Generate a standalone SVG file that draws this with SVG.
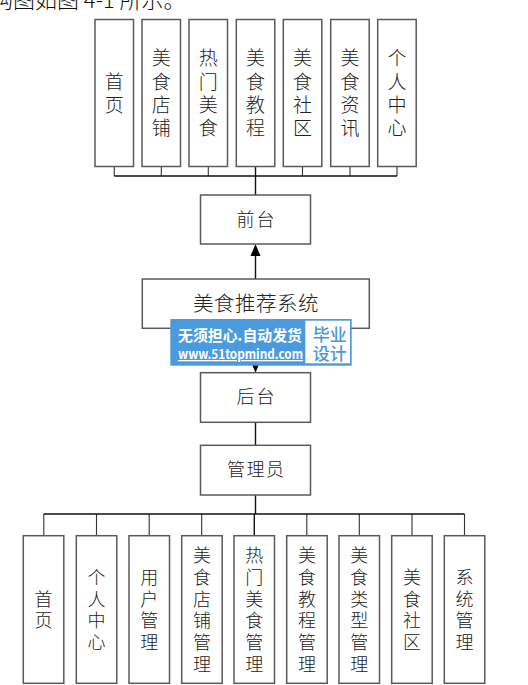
<svg xmlns="http://www.w3.org/2000/svg" width="528" height="685" viewBox="0 0 528 685">
<style>
.box{fill:#fff;stroke:#5a5a5a;stroke-width:1.5}
.t{font-family:"Noto Sans CJK SC","Noto Sans",sans-serif;fill:#222;font-weight:300;text-anchor:middle}
.t1{font-size:19px}
.t2{font-size:18px}
.con{stroke:#111;stroke-width:1.4;fill:none}
.stub{stroke:#333;stroke-width:1.1;fill:none}
.wm1{font-family:"Noto Sans CJK SC","Noto Sans",sans-serif;fill:#fff;font-weight:700}
.wm2{font-family:"Noto Sans CJK SC",sans-serif;fill:#4a98d8;font-weight:500}
</style>
<rect width="528" height="685" fill="#fff"/>
<text x="-9" y="8" font-family="'Noto Sans CJK SC',sans-serif" font-size="22" font-weight="300" fill="#111">构图如图 4-1 所示。</text>

<g id="connectors">
  <g class="stub">
    <path d="M114.3 166.5V176M161.3 166.5V176M208.3 166.5V176M302.5 166.5V176M350 166.5V176M397 166.5V176"/>
    <path d="M96.5 514V535.7M149.2 514V535.7M201.7 514V535.7M306.8 514V535.7M359.3 514V535.7M412 514V535.7"/>
    <path d="M43.8 514V535.7M464.5 514V535.7"/>
  </g>
  <path class="con" d="M114.3 176H397M255.5 166.5V195"/>
  <path class="con" d="M255.5 279V255"/>
  <polygon points="250.5,256 260.5,256 255.5,244" fill="#000"/>
  <path class="con" d="M255.5 328.3V362"/>
  <polygon points="251,362 260,362 255.5,372.7" fill="#000"/>
  <path class="con" d="M255.5 422.3V445.3"/>
  <path class="con" d="M255.5 495V514M43.8 514H464.5M254.3 514V535.7"/>
</g>

<g id="top-1"><rect class="box" x="95" y="19.5" width="38.5" height="147"/><text class="t t1"><tspan x="114.3" y="88.6">首</tspan><tspan x="114.3" y="111.9">页</tspan></text></g>
<g id="top-2"><rect class="box" x="142" y="19.5" width="38.5" height="147"/><text class="t t1"><tspan x="161.3" y="65.3">美</tspan><tspan x="161.3" y="88.6">食</tspan><tspan x="161.3" y="111.9">店</tspan><tspan x="161.3" y="135.2">铺</tspan></text></g>
<g id="top-3"><rect class="box" x="189" y="19.5" width="38.5" height="147"/><text class="t t1"><tspan x="208.3" y="65.3">热</tspan><tspan x="208.3" y="88.6">门</tspan><tspan x="208.3" y="111.9">美</tspan><tspan x="208.3" y="135.2">食</tspan></text></g>
<g id="top-4"><rect class="box" x="236.3" y="19.5" width="38.5" height="147"/><text class="t t1"><tspan x="255.5" y="65.3">美</tspan><tspan x="255.5" y="88.6">食</tspan><tspan x="255.5" y="111.9">教</tspan><tspan x="255.5" y="135.2">程</tspan></text></g>
<g id="top-5"><rect class="box" x="283.3" y="19.5" width="38.5" height="147"/><text class="t t1"><tspan x="302.5" y="65.3">美</tspan><tspan x="302.5" y="88.6">食</tspan><tspan x="302.5" y="111.9">社</tspan><tspan x="302.5" y="135.2">区</tspan></text></g>
<g id="top-6"><rect class="box" x="330.7" y="19.5" width="38.5" height="147"/><text class="t t1"><tspan x="350" y="65.3">美</tspan><tspan x="350" y="88.6">食</tspan><tspan x="350" y="111.9">资</tspan><tspan x="350" y="135.2">讯</tspan></text></g>
<g id="top-7"><rect class="box" x="377.7" y="19.5" width="38.5" height="147"/><text class="t t1"><tspan x="397" y="65.3">个</tspan><tspan x="397" y="88.6">人</tspan><tspan x="397" y="111.9">中</tspan><tspan x="397" y="135.2">心</tspan></text></g>

<g id="qiantai"><rect class="box" x="200.5" y="195" width="110" height="49"/><text class="t" font-size="18" letter-spacing="2" x="256.5" y="226">前台</text></g>
<g id="system"><rect class="box" x="142.3" y="279" width="227" height="49.3"/><text class="t" font-size="20.5" letter-spacing="0.5" x="256" y="311">美食推荐系统</text></g>
<g id="houtai"><rect class="box" x="200.5" y="372.7" width="110" height="49.6"/><text class="t" font-size="18" letter-spacing="2" x="256.5" y="403">后台</text></g>
<g id="admin"><rect class="box" x="200.5" y="445.3" width="110" height="49.7"/><text class="t" font-size="18" letter-spacing="1.5" x="256.2" y="476">管理员</text></g>

<g id="bot-1"><rect class="box" x="23.3" y="535.7" width="40.5" height="147.6"/><text class="t t2"><tspan x="43.6" y="605.5">首</tspan><tspan x="43.6" y="627.2">页</tspan></text></g>
<g id="bot-2"><rect class="box" x="76.3" y="535.7" width="40.5" height="147.6"/><text class="t t2"><tspan x="96.5" y="583.8">个</tspan><tspan x="96.5" y="605.5">人</tspan><tspan x="96.5" y="627.2">中</tspan><tspan x="96.5" y="648.9">心</tspan></text></g>
<g id="bot-3"><rect class="box" x="129" y="535.7" width="40.5" height="147.6"/><text class="t t2"><tspan x="149.2" y="583.8">用</tspan><tspan x="149.2" y="605.5">户</tspan><tspan x="149.2" y="627.2">管</tspan><tspan x="149.2" y="648.9">理</tspan></text></g>
<g id="bot-4"><rect class="box" x="181.7" y="535.7" width="40.5" height="147.6"/><text class="t t2"><tspan x="201.9" y="562.1">美</tspan><tspan x="201.9" y="583.8">食</tspan><tspan x="201.9" y="605.5">店</tspan><tspan x="201.9" y="627.2">铺</tspan><tspan x="201.9" y="648.9">管</tspan><tspan x="201.9" y="670.6">理</tspan></text></g>
<g id="bot-5"><rect class="box" x="234" y="535.7" width="40.5" height="147.6"/><text class="t t2"><tspan x="254.3" y="562.1">热</tspan><tspan x="254.3" y="583.8">门</tspan><tspan x="254.3" y="605.5">美</tspan><tspan x="254.3" y="627.2">食</tspan><tspan x="254.3" y="648.9">管</tspan><tspan x="254.3" y="670.6">理</tspan></text></g>
<g id="bot-6"><rect class="box" x="286.7" y="535.7" width="40.5" height="147.6"/><text class="t t2"><tspan x="306.9" y="562.1">美</tspan><tspan x="306.9" y="583.8">食</tspan><tspan x="306.9" y="605.5">教</tspan><tspan x="306.9" y="627.2">程</tspan><tspan x="306.9" y="648.9">管</tspan><tspan x="306.9" y="670.6">理</tspan></text></g>
<g id="bot-7"><rect class="box" x="339" y="535.7" width="40.5" height="147.6"/><text class="t t2"><tspan x="359.3" y="562.1">美</tspan><tspan x="359.3" y="583.8">食</tspan><tspan x="359.3" y="605.5">类</tspan><tspan x="359.3" y="627.2">型</tspan><tspan x="359.3" y="648.9">管</tspan><tspan x="359.3" y="670.6">理</tspan></text></g>
<g id="bot-8"><rect class="box" x="391.7" y="535.7" width="40.5" height="147.6"/><text class="t t2"><tspan x="412" y="583.8">美</tspan><tspan x="412" y="605.5">食</tspan><tspan x="412" y="627.2">社</tspan><tspan x="412" y="648.9">区</tspan></text></g>
<g id="bot-9"><rect class="box" x="444.3" y="535.7" width="40.5" height="147.6"/><text class="t t2"><tspan x="464.5" y="583.8">系</tspan><tspan x="464.5" y="605.5">统</tspan><tspan x="464.5" y="627.2">管</tspan><tspan x="464.5" y="648.9">理</tspan></text></g>

<g id="watermark">
  <rect x="170.3" y="319" width="181.4" height="46.7" fill="#4c9ade"/>
  <rect x="305.3" y="320.7" width="44.7" height="42.6" fill="#fff"/>
  <text class="wm1" x="178" y="341" font-size="15.2" textLength="124" lengthAdjust="spacingAndGlyphs">无须担心.自动发货</text>
  <text class="wm1" x="178" y="359" font-size="13" font-family="'Open Sans',sans-serif" textLength="125" lengthAdjust="spacingAndGlyphs" text-decoration="underline">www.51topmind.com</text>
  <text class="wm2" x="329.8" y="341" font-size="17" text-anchor="middle">毕业</text>
  <text class="wm2" x="329.8" y="360" font-size="17" text-anchor="middle">设计</text>
</g>
</svg>
